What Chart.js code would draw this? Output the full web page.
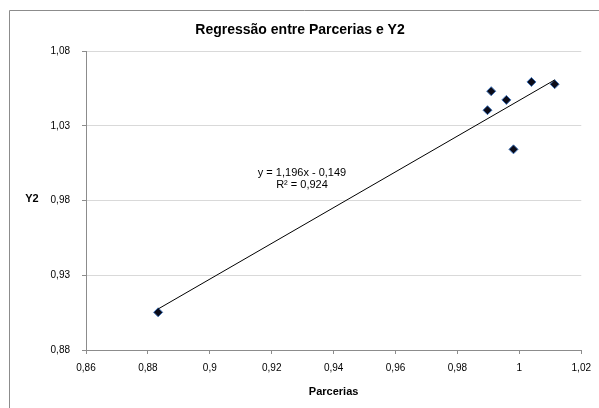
<!DOCTYPE html>
<html>
<head>
<meta charset="utf-8">
<script src="https://cdn.jsdelivr.net/npm/chart.js@4.4.0/dist/chart.umd.min.js"></script>
<style>
  html, body { margin: 0; padding: 0; background: #fff; }
  #wrap { width: 599px; height: 408px; position: relative; }
</style>
</head>
<body>
<div id="wrap"><canvas id="grafico"></canvas></div>
<script>
// dados
var parcerias = [0.8833, 0.9897, 0.9909, 0.9958, 0.9981, 1.0039, 1.0114];
var y2        = [0.9052, 1.0404, 1.0531, 1.0473, 1.0142, 1.0593, 1.0578];
var regressao = [1.196, -0.149]; // inclinacao, intercepto
var r2 = 0.924;
var yTicks = [0.88, 0.93, 0.98, 1.03, 1.08];
var xTicks = [0.86, 0.88, 0.9, 0.92, 0.94, 0.96, 0.98, 1, 1.02];

var fonte = "'Liberation Sans', Arial, sans-serif";
function virgula(v, casas){
    return Number(v.toFixed(casas)).toString().replace('.', ',');
}

var pontos = [];
for(var i=0;i<parcerias.length;i++) pontos.push({x: parcerias[i], y: y2[i]});

var xmin = Math.min.apply(null, parcerias), xmax = Math.max.apply(null, parcerias);
var linha = [
    {x: xmin, y: regressao[0]*xmin + regressao[1]},
    {x: xmax, y: regressao[0]*xmax + regressao[1]}
];

var moldura = {
    id: 'moldura',
    beforeDraw: function(chart){
        var c = chart.ctx;
        c.save();
        c.fillStyle = '#fff';
        c.fillRect(0, 0, chart.width, chart.height);
        c.strokeStyle = '#8c8c8c';
        c.lineWidth = 1;
        c.beginPath();
        c.moveTo(9.5, chart.height);
        c.lineTo(9.5, 10.5);
        c.lineTo(chart.width, 10.5);
        c.stroke();
        c.restore();
    },
    afterDraw: function(chart){
        var c = chart.ctx;
        c.save();
        c.fillStyle = '#000';
        c.textAlign = 'center';
        c.textBaseline = 'middle';
        c.font = 'bold 14px ' + fonte;
        c.fillText('Regressão entre Parcerias e Y2', 300, 30);
        c.font = 'bold 11px ' + fonte;
        c.fillText('Y2', 32, 199);
        c.font = '11px ' + fonte;
        c.fillText('y = ' + virgula(regressao[0], 3) + 'x - ' + virgula(-regressao[1], 3), 302, 173);
        c.fillText('R² = ' + virgula(r2, 3), 302, 185);
        c.restore();
    }
};

new Chart(document.getElementById('grafico'), {
    type: 'scatter',
    data: {
        datasets: [{
            data: pontos,
            pointStyle: 'rectRot',
            pointRadius: 4.5,
            pointHoverRadius: 4.5,
            backgroundColor: '#0b0b18',
            borderColor: '#3f72b8',
            borderWidth: 1,
            order: 2
        },{
            data: linha,
            showLine: true,
            borderColor: '#000',
            borderWidth: 1,
            pointRadius: 0,
            order: 1
        }]
    },
    options: {
        responsive: true,
        maintainAspectRatio: false,
        animation: false,
        layout: { padding: { left: 0, right: 15, top: 51, bottom: 0 } },
        plugins: { legend: { display: false }, tooltip: { enabled: false } },
        scales: {
            x: {
                type: 'linear',
                min: xTicks[0], max: xTicks[xTicks.length-1],
                afterBuildTicks: function(s){ s.ticks = xTicks.map(function(v){ return {value: v}; }); },
                afterFit: function(s){ s.height = 58; },
                grid: { drawOnChartArea: false, tickLength: 4, color: '#8c8c8c' },
                border: { color: '#8c8c8c' },
                ticks: {
                    padding: 8, maxRotation: 0, color: '#000',
                    font: { family: fonte, size: 10 },
                    callback: function(v){ return virgula(v, 2); }
                },
                title: {
                    display: true, text: 'Parcerias', color: '#000',
                    font: { family: fonte, size: 11, weight: 'bold' },
                    padding: { top: 0, bottom: 9 }
                }
            },
            y: {
                type: 'linear',
                min: yTicks[0], max: yTicks[yTicks.length-1],
                afterBuildTicks: function(s){ s.ticks = yTicks.map(function(v){ return {value: v}; }); },
                afterFit: function(s){ s.width = 86; },
                grid: { color: '#d9d9d9', tickColor: '#8c8c8c', tickLength: 4 },
                border: { color: '#8c8c8c' },
                ticks: {
                    padding: 12, color: '#000',
                    font: { family: fonte, size: 10 },
                    callback: function(v){ return virgula(v, 2); }
                }
            }
        }
    },
    plugins: [moldura]
});
</script>
</body>
</html>
